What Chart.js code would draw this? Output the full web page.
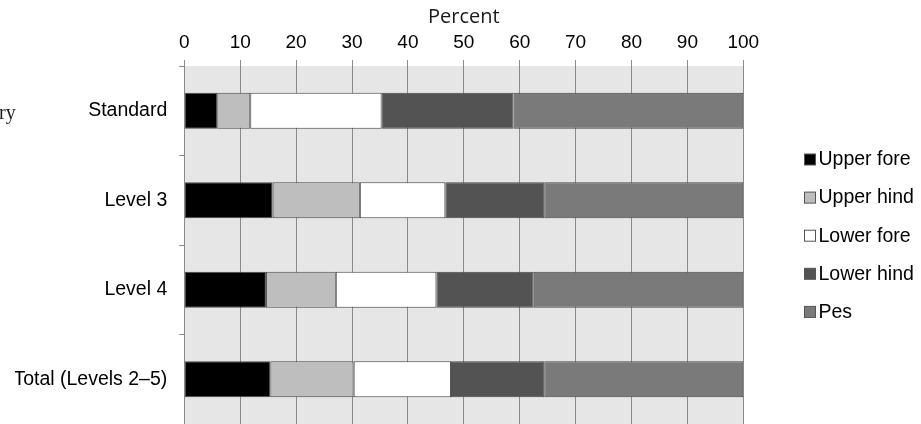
<!DOCTYPE html>
<html>
<head>
<meta charset="utf-8">
<script src="https://cdn.jsdelivr.net/npm/chart.js@4/dist/chart.umd.min.js"></script>
<style>
  html, body { margin: 0; padding: 0; background: #fff; overflow: hidden; }
  #c { display: block; width: 921px; height: 424px; }
</style>
</head>
<body>
<canvas id="c" width="921" height="424"></canvas>
<script>
// Categories (rows) and share of each limb segment, in percent
const categories = ['Standard', 'Level 3', 'Level 4', 'Total (Levels 2\u20135)'];
const seriesNames = ['Upper fore', 'Upper hind', 'Lower fore', 'Lower hind', 'Pes'];
const upperFore = [5.9, 15.8, 14.6, 15.4];
const upperHind = [5.9, 15.6, 12.5, 14.9];
const lowerFore = [23.5, 15.3, 18.0, 17.4];
const lowerHind = [23.6, 17.7, 17.4, 16.7];
const pes       = [41.1, 35.6, 37.5, 35.6];
const xTicks = [0, 10, 20, 30, 40, 50, 60, 70, 80, 90, 100];
const axisTitle = 'Percent';
const sideNote = 'ry';

const fills = ['#000000', '#bebebe', '#ffffff', '#535353', '#7a7a7a'];
const seriesValues = [upperFore, upperHind, lowerFore, lowerHind, pes];
const GRID = '#8a8a8a';
const SANS = "'Liberation Sans', Arial, sans-serif";

const datasets = seriesNames.map((name, i) => ({
  label: name,
  data: seriesValues[i],
  backgroundColor: fills[i],
  borderColor: '#474747',
  borderWidth: 1,
  borderSkipped: false,
  categoryPercentage: 1.0,
  barPercentage: 0.4
}));

// Grey plotting panel behind the bars
const panel = {
  id: 'panel',
  beforeDraw(chart) {
    const { ctx, chartArea: a } = chart;
    ctx.save();
    ctx.fillStyle = '#e6e6e6';
    ctx.fillRect(a.left, a.top, a.right - a.left, a.bottom - a.top);
    ctx.restore();
  }
};

// Key on the right and the stray serif note on the left
const sideKey = {
  id: 'sideKey',
  afterDraw(chart) {
    const ctx = chart.ctx;
    ctx.save();
    chart.data.datasets.forEach((ds, i) => {
      const cy = 159.5 + 38.1 * i;
      ctx.fillStyle = ds.backgroundColor;
      ctx.fillRect(804.5, cy - 5.5, 11, 11);
      ctx.strokeStyle = '#555555';
      ctx.lineWidth = 1;
      ctx.strokeRect(804.5, cy - 5.5, 11, 11);
      ctx.fillStyle = '#000';
      ctx.font = "19.5px " + SANS;
      ctx.textAlign = 'left';
      ctx.textBaseline = 'middle';
      ctx.fillText(ds.label, 818.5, cy + 0.5);
    });
    ctx.font = "20px 'Liberation Serif', 'Times New Roman', serif";
    ctx.fillStyle = '#222';
    ctx.textBaseline = 'alphabetic';
    ctx.fillText(sideNote, -1, 119);
    ctx.restore();
  }
};

new Chart(document.getElementById('c'), {
  type: 'bar',
  data: { labels: categories, datasets },
  options: {
    indexAxis: 'y',
    responsive: false,
    maintainAspectRatio: false,
    animation: false,
    // the plot runs slightly past the lower edge of the canvas
    layout: { padding: { top: 0, left: 15, right: 177.7, bottom: -2 } },
    plugins: { legend: { display: false }, tooltip: { enabled: false } },
    scales: {
      x: {
        position: 'top',
        stacked: true,
        min: 0,
        max: 100,
        afterBuildTicks(scale) { scale.ticks = xTicks.map(v => ({ value: v })); },
        afterFit(scale) {
          scale.height = 66;
          scale.paddingBottom = -2;
        },
        grid: { color: GRID, lineWidth: 1, tickLength: 6, drawTicks: true },
        border: { display: false },
        ticks: { color: '#000', font: { family: SANS, size: 19 }, padding: 6, maxRotation: 0 },
        title: {
          display: true,
          text: axisTitle,
          color: '#1a1a1a',
          font: { family: "'Open Sans', sans-serif", size: 20 },
          padding: { top: 5.5, bottom: 0 }
        }
      },
      y: {
        stacked: true,
        afterFit(scale) {
          scale.width = 169.3;
          scale.paddingTop = 0;
          scale.paddingBottom = -2;
        },
        grid: { color: GRID, drawOnChartArea: false, tickLength: 5 },
        border: { display: true, color: GRID, width: 1 },
        ticks: { color: '#000', font: { family: SANS, size: 19.5 }, padding: 12 }
      }
    }
  },
  plugins: [panel, sideKey]
});
</script>
</body>
</html>
